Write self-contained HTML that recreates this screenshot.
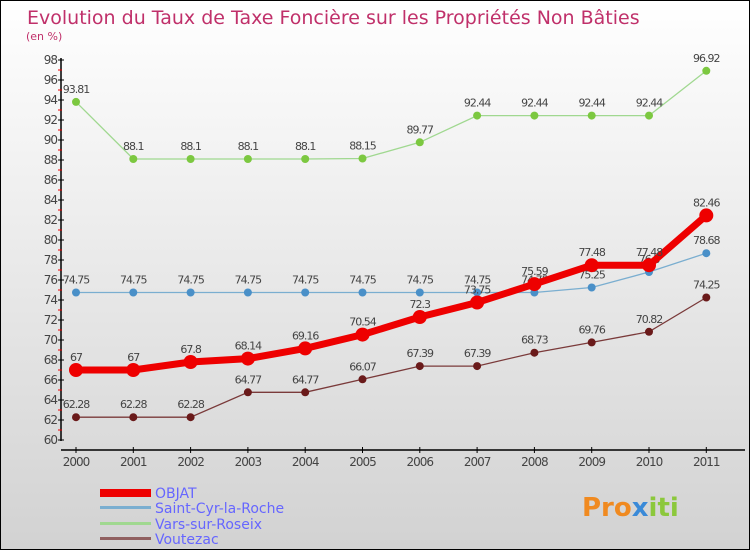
<!DOCTYPE html>
<html><head><meta charset="utf-8"><style>
body{margin:0}
#c{width:750px;height:550px;position:relative;overflow:hidden;font-family:"DejaVu Sans","Liberation Sans",sans-serif}
</style></head><body>
<div id="c">
<svg id="s" width="750" height="550" xmlns="http://www.w3.org/2000/svg">
<defs><linearGradient id="bg" x1="0" y1="0" x2="0" y2="1"><stop offset="0" stop-color="#ffffff"/><stop offset="1" stop-color="#d2d2d2"/></linearGradient></defs>
<rect x="0.5" y="0.5" width="749" height="549" fill="url(#bg)" stroke="#000"/>
<text x="27" y="24" font-size="19" fill="#c0306a">Evolution du Taux de Taxe Foncière sur les Propriétés Non Bâties</text>
<text x="26" y="40" font-size="11" fill="#c0306a">(en %)</text>
<g id="axes"></g><g id="series"></g>
<g>
<rect x="100" y="489" width="51" height="8" fill="#ee0000"/>
<text x="155" y="498" font-size="14" fill="#6666ff">OBJAT</text>
<rect x="100" y="506" width="51" height="3" fill="#7aaed0"/>
<text x="155" y="513" font-size="14" fill="#6666ff">Saint-Cyr-la-Roche</text>
<rect x="100" y="522" width="51" height="3" fill="#a0d890"/>
<text x="155" y="529" font-size="14" fill="#6666ff">Vars-sur-Roseix</text>
<rect x="100" y="537" width="51" height="3" fill="#906060"/>
<text x="155" y="544" font-size="14" fill="#6666ff">Voutezac</text>
</g>
<text x="582" y="516" font-size="26" font-weight="bold" fill="#f08a20">Pro<tspan fill="#3a8ad8">x</tspan><tspan fill="#8cc83c">iti</tspan></text>
</svg></div>
<script>
const years=[2000,2001,2002,2003,2004,2005,2006,2007,2008,2009,2010,2011];
const objat=[67,67,67.8,68.14,69.16,70.54,72.3,73.75,75.59,77.48,77.48,82.46];
const saintCyr=[74.75,74.75,74.75,74.75,74.75,74.75,74.75,74.75,74.75,75.25,76.8,78.68];
const vars=[93.81,88.1,88.1,88.1,88.1,88.15,89.77,92.44,92.44,92.44,92.44,96.92];
const voutezac=[62.28,62.28,62.28,64.77,64.77,66.07,67.39,67.39,68.73,69.76,70.82,74.25];
const yTicks=[60,62,64,66,68,70,72,74,76,78,80,82,84,86,88,90,92,94,96,98];
const NS='http://www.w3.org/2000/svg';
const X=i=>76+i*57.3, Y=v=>440-(v-60)*10;
function mk(t,a,p){const e=document.createElementNS(NS,t);for(const k in a)e.setAttribute(k,a[k]);p.appendChild(e);return e;}
const ax=document.getElementById('axes');
mk('line',{x1:61,y1:58,x2:61,y2:441,stroke:'#000','stroke-width':1.5},ax);
mk('line',{x1:61,y1:450,x2:745,y2:450,stroke:'#000','stroke-width':1.5},ax);
yTicks.forEach(v=>{
 mk('line',{x1:58,y1:Y(v),x2:64,y2:Y(v),stroke:'#000'},ax);
 if(v<98)mk('line',{x1:58,y1:Y(v+1),x2:62,y2:Y(v+1),stroke:'#e00'},ax);
 const t=mk('text',{x:57,y:Y(v)+4,'font-size':12,'text-anchor':'end',fill:'#444','letter-spacing':'-1'},ax);
 
 
 t.textContent=v;
});
years.forEach((y,i)=>{
 mk('line',{x1:X(i),y1:447,x2:X(i),y2:453,stroke:'#000'},ax);
 const t=mk('text',{x:X(i),y:466,'font-size':12,'text-anchor':'middle',fill:'#444','letter-spacing':'-1'},ax);
 
 
 t.textContent=y;
});
const sg=document.getElementById('series');
function draw(name,vals,color,w,r,dot){
 const g=mk('g',{},sg);
 
 
 mk('polyline',{points:vals.map((v,i)=>X(i)+','+Y(v)).join(' '),fill:'none',stroke:color,'stroke-width':w},g);
 vals.forEach((v,i)=>{
  const c=mk('circle',{cx:X(i),cy:Y(v),r:r,fill:dot},g);
  
  
  const t=mk('text',{x:X(i),y:Y(v)-9,'font-size':11,'text-anchor':'middle',fill:'#444','letter-spacing':'-1'},g);
  
  
  t.textContent=v;
 });
}
draw('vars',vars,'#a0d890',1.3,4,'#7cc840');
draw('saint-cyr',saintCyr,'#7aaed0',1.3,4,'#4a90c8');
draw('voutezac',voutezac,'#7a3a3a',1.3,4,'#6a1a1a');
draw('objat',objat,'#ee0000',7,7,'#ee0000');
</script>
</body></html>
